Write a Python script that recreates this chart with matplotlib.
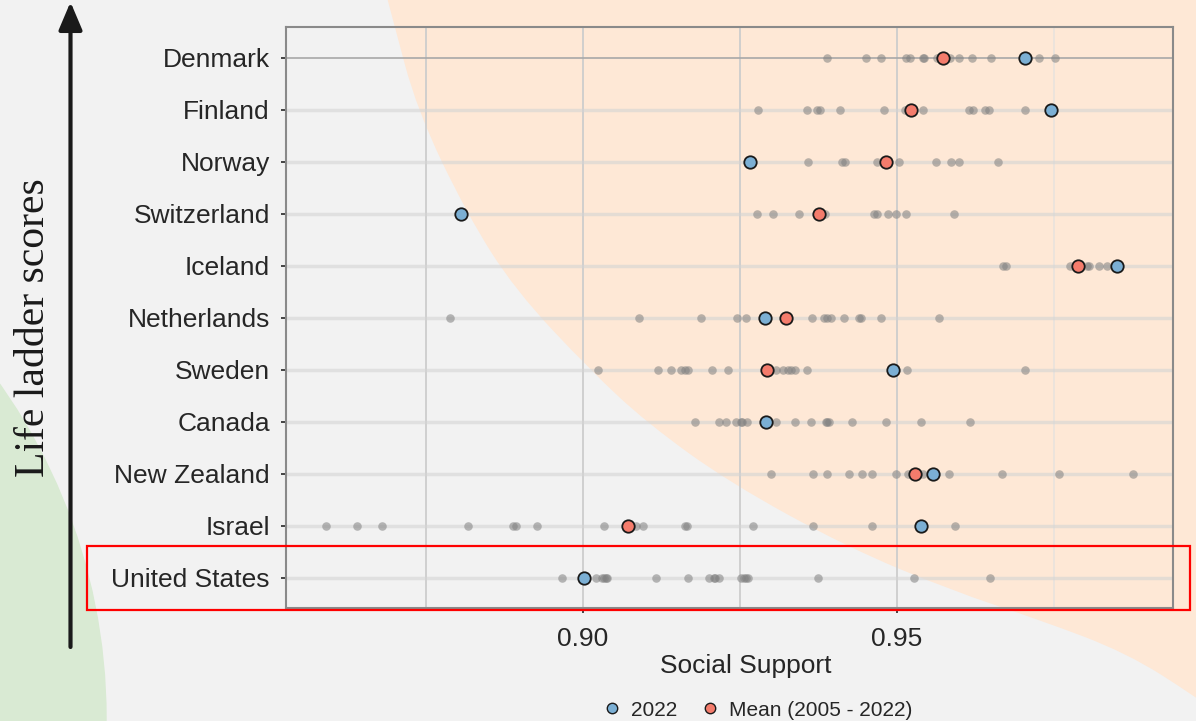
import numpy as np
import matplotlib
matplotlib.use("Agg")
import matplotlib.pyplot as plt
from matplotlib.lines import Line2D
from matplotlib.patches import Ellipse, Rectangle, PathPatch, FancyArrowPatch
from matplotlib.path import Path

plt.rcParams["font.family"] = ["Liberation Sans", "DejaVu Sans"]

countries = ["Denmark", "Finland", "Norway", "Switzerland", "Iceland", "Netherlands",
             "Sweden", "Canada", "New Zealand", "Israel", "United States"]

# social support of earlier years (grey dots)
denmark = [0.9389, 0.9450, 0.9475, 0.9515, 0.9521, 0.9541, 0.9543, 0.9563, 0.9584,
           0.9598, 0.9619, 0.9649, 0.9726, 0.9752]
finland = [0.9278, 0.9356, 0.9373, 0.9377, 0.9409, 0.9479, 0.9513, 0.9541, 0.9615,
           0.9621, 0.9640, 0.9647, 0.9704]
norway = [0.9359, 0.9412, 0.9417, 0.9468, 0.9503, 0.9562, 0.9586, 0.9599, 0.9661]
switzerland = [0.9277, 0.9303, 0.9344, 0.9385, 0.9463, 0.9468, 0.9486, 0.9498,
               0.9515, 0.9590]
iceland = [0.9669, 0.9673, 0.9775, 0.9802, 0.9806, 0.9821, 0.9835]
netherlands = [0.8788, 0.9089, 0.9188, 0.9245, 0.9260, 0.9365, 0.9384, 0.9389, 0.9395,
               0.9416, 0.9440, 0.9442, 0.9475, 0.9567]
sweden = [0.9024, 0.9120, 0.9140, 0.9156, 0.9163, 0.9167, 0.9205, 0.9231, 0.9307,
          0.9319, 0.9327, 0.9331, 0.9338, 0.9357, 0.9516, 0.9704]
canada = [0.9178, 0.9217, 0.9228, 0.9244, 0.9252, 0.9254, 0.9261, 0.9307, 0.9338,
          0.9363, 0.9387, 0.9389, 0.9391, 0.9429, 0.9482, 0.9539, 0.9617]
new_zealand = [0.9300, 0.9367, 0.9389, 0.9424, 0.9444, 0.9461, 0.9499, 0.9518, 0.9542,
               0.9583, 0.9667, 0.9758, 0.9876]
israel = [0.8591, 0.8640, 0.8680, 0.8817, 0.8889, 0.8894, 0.8926, 0.9033, 0.9084,
          0.9096, 0.9163, 0.9166, 0.9271, 0.9367, 0.9461, 0.9592]
united_states = [0.8967, 0.9021, 0.9031, 0.9034, 0.9036, 0.9039, 0.9117, 0.9167, 0.9200,
                 0.9209, 0.9211, 0.9217, 0.9252, 0.9257, 0.9259, 0.9262, 0.9375, 0.9527,
                 0.9648]
yearly = [denmark, finland, norway, switzerland, iceland, netherlands, sweden, canada,
          new_zealand, israel, united_states]

value_2022 = [0.9704, 0.9745, 0.9266, 0.8806, 0.9850, 0.9290, 0.9494, 0.9291, 0.9557,
              0.9538, 0.9002]
mean_05_22 = [0.9574, 0.9522, 0.9482, 0.9376, 0.9788, 0.9323, 0.9293, np.nan, 0.9529,
              0.9071, np.nan]

W, H = 1196, 721
fig = plt.figure(figsize=(W / 100, H / 100), dpi=100)
fig.patch.set_facecolor("#f2f2f2")

# background blobs (pixel coords, y from top)
green = Ellipse((-471 / W, 1 - 718 / H), 2 * 577 / W, 2 * 577 / H,
                transform=fig.transFigure, color="#d9ead3", zorder=-2)
fig.add_artist(green)
edge = [(385, -10), (393, 20), (417, 110), (467, 214), (515, 290), (590, 370),
        (647, 423), (730, 483), (847, 547), (950, 590), (1040, 620), (1127, 653),
        (1196, 697), (1215, 712)]
verts = [edge[0]]
codes = [Path.MOVETO]
for k in range(1, len(edge) - 1):
    mid = ((edge[k][0] + edge[k + 1][0]) / 2, (edge[k][1] + edge[k + 1][1]) / 2)
    verts += [edge[k], mid]
    codes += [Path.CURVE3, Path.CURVE3]
verts += [edge[-1], (1215, -10), edge[0]]
codes += [Path.LINETO, Path.LINETO, Path.CLOSEPOLY]
verts = [(x / W, 1 - y / H) for x, y in verts]
peach = PathPatch(Path(verts, codes), transform=fig.transFigure, facecolor="#fee8d6",
                  edgecolor="none", zorder=-1)
fig.add_artist(peach)

ax = fig.add_axes([286 / W, 1 - 608 / H, 887 / W, 581 / H])
ax.set_facecolor("none")

ys = np.arange(len(countries))
for x in [0.875, 0.90, 0.925, 0.95]:
    ax.axvline(x, color="#cdcdcd", lw=1.3, zorder=1)
ax.axvline(0.975, color="#ebe3dc", lw=1.3, zorder=1)
for i in ys:
    if i == 0:
        ax.axhline(i, color="#a8a8a8", lw=1.2, zorder=1)
    else:
        ax.axhline(i, color="#d4d4d4", lw=2.5, alpha=0.6, zorder=1)

for i, vals in enumerate(yearly):
    ax.scatter(vals, [i] * len(vals), s=38, color="#808080", alpha=0.55, lw=0, zorder=3)
ax.scatter(mean_05_22, ys, s=80, color="#f47c6c", edgecolor="#1a1a1a", lw=1.3, zorder=4)
ax.scatter(value_2022, ys, s=80, color="#7bafd4", edgecolor="#1a1a1a", lw=1.3, zorder=5)

ax.set_xlim(0.85271, 0.99395)
ax.set_ylim(10.577, -0.596)
ax.set_yticks(ys)
ax.set_yticklabels(countries)
ax.set_xticks([0.90, 0.95])
ax.set_xticklabels(["0.90", "0.95"])
ax.tick_params(axis="y", length=3.6, width=1.4, color="#444444", pad=8,
               labelsize=19, labelcolor="#262626")
ax.tick_params(axis="x", length=3.5, width=1.4, color="#444444", pad=10,
               labelsize=19, labelcolor="#262626")
for s in ax.spines.values():
    s.set_color("#8a8a8a")
    s.set_linewidth(1.5)

ax.set_xlabel("Social Support", fontsize=19, color="#262626")
ax.xaxis.set_label_coords((746 - 286) / 887, -0.08)

handles = [Line2D([], [], marker="o", ls="none", markersize=7.5, markerfacecolor="#7bafd4",
                  markeredgecolor="#1a1a1a", markeredgewidth=1),
           Line2D([], [], marker="o", ls="none", markersize=7.5, markerfacecolor="#f47c6c",
                  markeredgecolor="#1a1a1a", markeredgewidth=1)]
fig.legend(handles, ["2022", "Mean (2005 - 2022)"], loc="center",
           bbox_to_anchor=(757 / W, 1 - 710 / H), ncol=2, frameon=False, fontsize=15,
           handlelength=1.0, handletextpad=0.4, columnspacing=1.1, labelcolor="#262626")

arrow = FancyArrowPatch((70.5 / W, 1 - 647 / H), (70.5 / W, 1 - 2 / H),
                        transform=fig.transFigure, arrowstyle="-|>,head_width=0.36,head_length=0.85",
                        mutation_scale=20, lw=3, color="#1a1a1a", shrinkA=0, shrinkB=0)
fig.add_artist(arrow)
fig.text(34 / W, 1 - 328 / H, "Life ladder scores", rotation=90, ha="center", va="center",
         fontsize=30, family=["Liberation Serif", "DejaVu Serif"], color="#1a1a1a")

box = Rectangle((87 / W, 1 - 610 / H), (1190 - 87) / W, (610 - 546) / H,
                transform=fig.transFigure, fill=False, edgecolor="#ff0000", lw=1.6, zorder=10)
fig.add_artist(box)

fig.savefig("out.png", dpi=100, facecolor=fig.get_facecolor())
